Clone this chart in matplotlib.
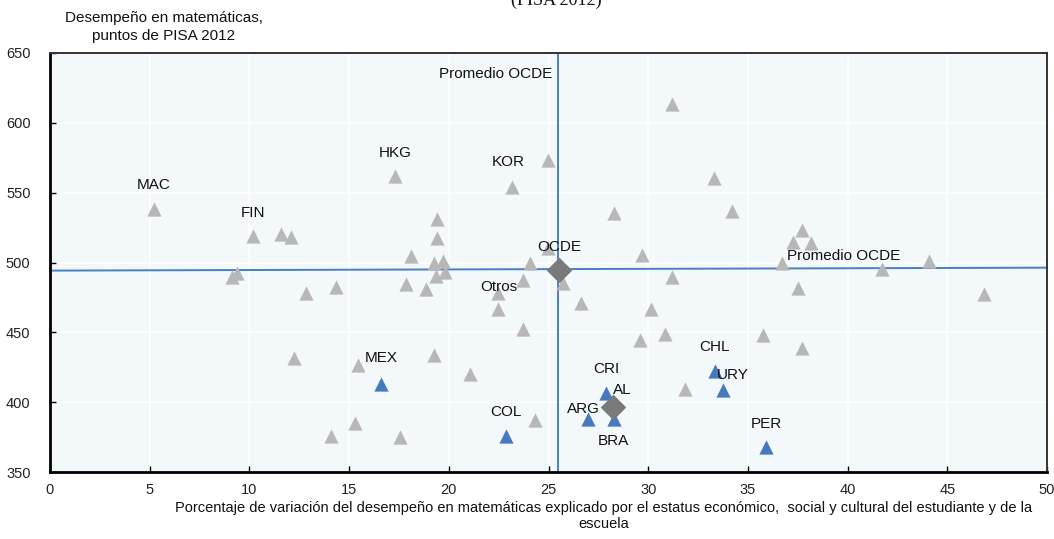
import matplotlib
matplotlib.use("Agg")
import matplotlib.pyplot as plt
from matplotlib import font_manager

# ---------------- data ----------------
grey_x = [5.2, 10.16, 11.56, 12.1, 9.39, 9.11, 12.86, 14.36, 12.23, 15.45, 14.08, 15.28, 17.57,
          17.32, 19.4, 19.4, 18.12, 19.28, 19.7, 19.37, 19.82, 17.83, 18.87, 19.28, 21.04,
          23.17, 24.96, 24.96, 24.09, 23.74, 22.49, 22.49, 23.71, 24.34, 25.74, 26.63,
          28.3, 29.68, 31.2, 30.13, 30.83, 29.6, 31.18, 33.28, 34.18, 37.72, 37.27, 38.17,
          36.72, 37.5, 35.75, 37.7, 31.83, 41.74, 44.09, 46.85]
grey_y = [538.6, 518.8, 520.7, 518.1, 492.6, 489.8, 478.4, 482.4, 431.9, 426.4, 375.9, 385.0, 374.8,
          561.6, 531.2, 517.6, 504.5, 499.8, 501.4, 490.2, 493.3, 484.3, 481.2, 433.8, 420.0,
          553.8, 573.5, 510.5, 499.3, 487.4, 478.4, 466.4, 452.7, 387.4, 485.5, 471.2,
          535.5, 505.7, 489.8, 466.4, 448.6, 444.5, 613.6, 560.7, 536.7, 523.1, 514.8, 514.1,
          499.3, 481.9, 448.1, 438.6, 409.3, 495.0, 501.4, 477.1]
grey_labels = {0: "MAC", 1: "FIN", 13: "HKG", 25: "KOR"}

blue_names = ["MEX", "COL", "CRI", "ARG", "BRA", "CHL", "URY", "PER"]
blue_x = [16.62, 22.87, 27.88, 26.96, 28.26, 33.35, 33.77, 35.92]
blue_y = [412.9, 375.9, 406.9, 387.9, 387.9, 422.4, 408.8, 367.6]

avg_names = ["OCDE", "AL"]
avg_x = [25.54, 28.21]
avg_y = [494.5, 396.6]

oecd_avg_x = 25.49               # vertical reference line
oecd_line_x = [0, 50]            # horizontal reference line (slightly sloped)
oecd_line_y = [494.2, 496.3]

x_ticks = list(range(0, 51, 5))
y_ticks = list(range(350, 651, 50))

# ---------------- style ----------------
fams = [f.name for f in font_manager.fontManager.ttflist]
narrow = "Liberation Sans Narrow" if "Liberation Sans Narrow" in fams else "Liberation Sans"
plt.rcParams['font.family'] = [narrow, 'DejaVu Sans']

GREY = "#b7b7b7"
BLUE = "#4679bd"
DGREY = "#7a7a7a"
LINE = "#4a7fc1"
BG = "#f3f9fb"

fig = plt.figure(figsize=(10.54, 5.39), dpi=100)
ax = fig.add_axes([50/1054, 1-472/539, 997/1054, 419/539])
ax.set_facecolor(BG)

ax.set_xlim(0, 50)
ax.set_ylim(350, 650)
ax.set_xticks(x_ticks)
ax.set_yticks(y_ticks)
ax.grid(True, color="white", linewidth=1.2, zorder=0)
ax.set_axisbelow(True)
ax.tick_params(direction="in", length=4, width=1, colors="black", labelsize=10.5, pad=8)
for lab in ax.get_xticklabels() + ax.get_yticklabels():
    lab.set_color("#222222")
ax.tick_params(axis='y', pad=14)

for s in ["left", "bottom"]:
    ax.spines[s].set_linewidth(2.0)
    ax.spines[s].set_color("black")
for s in ["top", "right"]:
    ax.spines[s].set_linewidth(1.4)
    ax.spines[s].set_color("#333333")

# reference lines
ax.axvline(oecd_avg_x, color=LINE, linewidth=1.4, zorder=2)
ax.plot(oecd_line_x, oecd_line_y, color=LINE, linewidth=1.4, zorder=2, clip_on=False)

# points
ax.scatter(grey_x, grey_y, marker="^", s=105, color=GREY, linewidths=0, zorder=3)
ax.scatter(blue_x, blue_y, marker="^", s=105, color=BLUE, linewidths=0, zorder=4)
ax.scatter(avg_x, avg_y, marker="D", s=170, color=DGREY, linewidths=0, zorder=5)

lab_kw = dict(fontsize=11, color="#111111", zorder=6, textcoords="offset points")

# grey labels
grey_off = {"MAC": (0, 17), "FIN": (0, 17), "HKG": (0, 17), "KOR": (-3, 18)}
for i, name in grey_labels.items():
    ax.annotate(name, (grey_x[i], grey_y[i]), xytext=grey_off[name], ha="center", va="center", **lab_kw)

blue_off = {"MEX": (0, 19), "COL": (0, 17), "CRI": (0, 17), "ARG": (-3, 7),
            "BRA": (0, -16), "CHL": (0, 17), "URY": (7, 11), "PER": (0, 17)}
for name, x, y in zip(blue_names, blue_x, blue_y):
    ax.annotate(name, (x, y), xytext=blue_off[name], ha="center", va="center", **lab_kw)

avg_off = {"OCDE": (0, 17), "AL": (0, 12)}
avg_ha = {"OCDE": "center", "AL": "left"}
for name, x, y in zip(avg_names, avg_x, avg_y):
    ax.annotate(name, (x, y), xytext=avg_off[name], ha=avg_ha[name], va="center", **lab_kw)

ax.annotate("Otros", (grey_x[31], grey_y[31]), xytext=(0, 16), ha="center", va="center", **lab_kw)
ax.annotate("Promedio OCDE", (oecd_avg_x, 650), xytext=(-4, -15), ha="right", va="center", **lab_kw)
ax.annotate("Promedio OCDE", (36.95, 496), xytext=(0, 4), ha="left", va="bottom", **lab_kw)

# texts around
fig.text(164/1054, 1-27/539, "Desempeño en matemáticas,\npuntos de PISA 2012",
         ha="center", va="center", multialignment="center", fontsize=11, color="#111111",
         linespacing=1.3)
fig.text(604/1054, 1-516/539,
         "Porcentaje de variación del desempeño en matemáticas explicado por el estatus económico,  social y cultural del estudiante y de la\nescuela",
         ha="center", va="center", multialignment="center", fontsize=10.5, color="#111111",
         linespacing=1.25)
fig.text(556/1054, 1.0, "(PISA 2012)", ha="center", va="center",
         fontsize=13, family=["Liberation Serif", "DejaVu Serif"], color="#111111")

fig.savefig("out.png", dpi=100, facecolor="white")
